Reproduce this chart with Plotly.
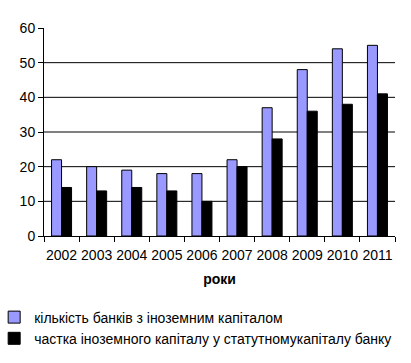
import plotly.graph_objects as go

years = ["2002", "2003", "2004", "2005", "2006", "2007", "2008", "2009", "2010", "2011"]
banks = [22, 20, 19, 18, 18, 22, 37, 48, 54, 55]
share = [14, 13, 14, 13, 10, 20, 28, 36, 38, 41]
y_ticks = [0, 10, 20, 30, 40, 50, 60]
grid_vals = [10, 20, 30, 40, 50]

font = "Liberation Sans, Arial, sans-serif"

fig = go.Figure()
fig.add_trace(go.Bar(
    x=years, y=banks, name="кількість банків з іноземним капіталом",
    marker=dict(color="#9999FF", line=dict(color="#000000", width=1)),
))
fig.add_trace(go.Bar(
    x=years, y=share, name="частка іноземного капіталу у статутномукапіталу банку",
    marker=dict(color="#000000", line=dict(color="#000000", width=1)),
))

for g in grid_vals:
    fig.add_shape(type="line", xref="paper", yref="y", x0=0, x1=1, y0=g, y1=g,
                  line=dict(color="#000000", width=1), layer="below")

fig.update_layout(
    width=411, height=363,
    margin=dict(l=44, r=16, t=28, b=127, autoexpand=False),
    paper_bgcolor="white", plot_bgcolor="white",
    barmode="group", bargap=0.43, bargroupgap=0,
    font=dict(family=font, size=14, color="#000000"),
    showlegend=True,
    legend=dict(
        orientation="v", x=-0.142, xanchor="left", y=-0.315, yanchor="top",
        font=dict(size=14), itemwidth=30, tracegroupgap=0,
        bgcolor="rgba(0,0,0,0)",
    ),
    xaxis=dict(
        type="category", showline=True, linecolor="#000000", linewidth=1,
        ticks="outside", tickson="boundaries", ticklen=5, tickcolor="#000000",
        showgrid=False, tickangle=0, automargin=False, ticklabelstandoff=6,
        title=dict(text="<b>роки</b>", font=dict(size=14), standoff=12),
    ),
    yaxis=dict(
        range=[0, 60], tickvals=y_ticks, showline=True, linecolor="#000000",
        linewidth=1, ticks="outside", ticklen=5, tickcolor="#000000",
        showgrid=False, zeroline=False, automargin=False,
    ),
)

fig.write_html("out.html", config={"displayModeBar": False},
               post_script="document.body.style.margin='0px';")
